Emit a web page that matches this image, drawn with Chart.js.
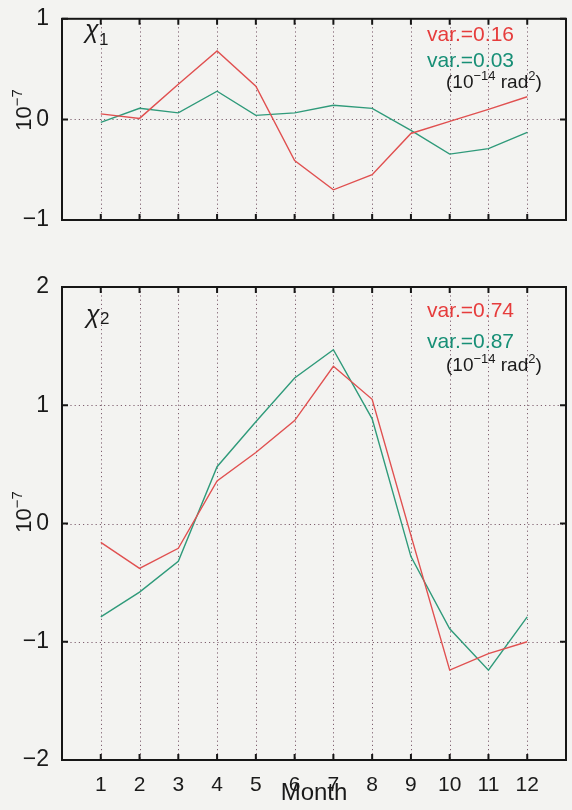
<!DOCTYPE html>
<html>
<head>
<meta charset="utf-8">
<script src="https://cdn.jsdelivr.net/npm/chart.js@4.4.1/dist/chart.umd.min.js"></script>
<style>
  body { margin: 0; background: #f3f3f1; }
  .panel { position: absolute; left: 0; width: 572px; }
  #top { top: 0; height: 250px; }
  #bottom { top: 250px; height: 560px; }
</style>
</head>
<body>
<div class="panel" id="top"><canvas id="chi1" width="572" height="250"></canvas></div>
<div class="panel" id="bottom"><canvas id="chi2" width="572" height="560"></canvas></div>
<script>
'use strict';

// data (units of 10^-7)
const months = [1, 2, 3, 4, 5, 6, 7, 8, 9, 10, 11, 12];
const chi1Red = [0.055, 0.01, 0.35, 0.68, 0.33, -0.41, -0.70, -0.55, -0.14, -0.02, 0.10, 0.225];
const chi1Green = [-0.03, 0.11, 0.065, 0.28, 0.04, 0.065, 0.14, 0.11, -0.11, -0.345, -0.29, -0.13];
const chi2Red = [-0.16, -0.38, -0.21, 0.36, 0.60, 0.87, 1.33, 1.05, -0.10, -1.24, -1.10, -1.00];
const chi2Green = [-0.79, -0.58, -0.32, 0.48, 0.86, 1.23, 1.47, 0.885, -0.28, -0.89, -1.24, -0.79];
const chi1YTicks = [-1, 0, 1];
const chi2YTicks = [-2, -1, 0, 1, 2];
const chi1Var = ['var.=0.16', 'var.=0.03'];
const chi2Var = ['var.=0.74', 'var.=0.87'];

const FONT = "'Liberation Sans', Arial, Helvetica, sans-serif";
const NARROW = "'Liberation Sans Narrow', 'Liberation Sans', Arial, sans-serif";
const RED = '#e05050';
const GREEN = '#2f9a7a';
const RED_TEXT = '#e63c3c';
const GREEN_TEXT = '#178f76';
const GRID = '#7f6070';

function toPoints(values) {
  return months.map(function(m, i) {
    return { x: m, y: values[i] };
  });
}

function formatTick(v) {
  return v < 0 ? '\u2212' + Math.abs(v) : String(v);
}

// draw text pieces one after another (for superscripts)
function drawPieces(ctx, x, y, pieces) {
  pieces.forEach(function(p) {
    ctx.font = p.size + 'px ' + FONT;
    ctx.fillText(p.text, x, y - (p.rise || 0));
    x += ctx.measureText(p.text).width;
  });
}

function piecesWidth(ctx, pieces) {
  let w = 0;
  pieces.forEach(function(p) {
    ctx.font = p.size + 'px ' + FONT;
    w += ctx.measureText(p.text).width;
  });
  return w;
}

const matlabAxes = {
  id: 'matlabAxes',
  beforeDatasetsDraw: function(chart) {
    const ctx = chart.ctx;
    const area = chart.chartArea;
    const xs = chart.scales.x;
    const ys = chart.scales.y;
    const yTicks = chart.options.plugins.matlabAxes.yTicks;

    ctx.save();
    ctx.strokeStyle = GRID;
    ctx.lineWidth = 1;
    ctx.setLineDash([1.2, 3]);
    months.forEach(function(m) {
      const px = Math.round(xs.getPixelForValue(m)) + 0.5;
      ctx.beginPath();
      ctx.moveTo(px, area.top);
      ctx.lineTo(px, area.bottom);
      ctx.stroke();
    });
    yTicks.forEach(function(v) {
      if (v === ys.min || v === ys.max) return;
      const py = Math.round(ys.getPixelForValue(v)) + 0.5;
      ctx.beginPath();
      ctx.moveTo(area.left, py);
      ctx.lineTo(area.right, py);
      ctx.stroke();
    });
    ctx.restore();
  },
  afterDatasetsDraw: function(chart) {
    const ctx = chart.ctx;
    const area = chart.chartArea;
    const xs = chart.scales.x;
    const ys = chart.scales.y;
    const opts = chart.options.plugins.matlabAxes;

    ctx.save();
    // frame
    ctx.strokeStyle = '#161616';
    ctx.lineWidth = 2;
    ctx.strokeRect(area.left, area.top, area.right - area.left, area.bottom - area.top);
    // inward ticks
    months.forEach(function(m) {
      const px = xs.getPixelForValue(m);
      ctx.beginPath();
      ctx.moveTo(px, area.top);
      ctx.lineTo(px, area.top + 6);
      ctx.moveTo(px, area.bottom);
      ctx.lineTo(px, area.bottom - 6);
      ctx.stroke();
    });
    opts.yTicks.forEach(function(v) {
      const py = ys.getPixelForValue(v);
      ctx.beginPath();
      ctx.moveTo(area.left, py);
      ctx.lineTo(area.left + 6, py);
      ctx.moveTo(area.right, py);
      ctx.lineTo(area.right - 6, py);
      ctx.stroke();
    });

    // panel name, chi with subscript
    ctx.fillStyle = '#1a1a1a';
    ctx.textAlign = 'left';
    ctx.textBaseline = 'alphabetic';
    ctx.font = 'italic 25px ' + FONT;
    ctx.fillText('\u03c7', opts.nameX, opts.nameY);
    ctx.font = '17px ' + FONT;
    ctx.fillText(opts.sub, opts.nameX + 14, opts.nameY + opts.subDrop);

    // variances
    ctx.font = '21px ' + FONT;
    ctx.fillStyle = RED_TEXT;
    ctx.fillText(opts.vars[0], opts.varX, opts.varY[0]);
    ctx.fillStyle = GREEN_TEXT;
    ctx.fillText(opts.vars[1], opts.varX, opts.varY[1]);
    ctx.fillStyle = '#1a1a1a';
    drawPieces(ctx, opts.varX + 19, opts.varY[2], [
      { text: '(10', size: 19 },
      { text: '\u221214', size: 13, rise: 8 },
      { text: ' rad', size: 19 },
      { text: '2', size: 13, rise: 8 },
      { text: ')', size: 19 }
    ]);

    // y axis unit, rotated
    const unit = [
      { text: '10', size: 22 },
      { text: '\u22127', size: 15, rise: 9 }
    ];
    ctx.translate(31, opts.unitY);
    ctx.rotate(-Math.PI / 2);
    drawPieces(ctx, -piecesWidth(ctx, unit) / 2, 0, unit);
    ctx.restore();
  }
};

function makePanel(canvasId, red, green, yMin, yMax, yTicks, extra) {
  return new Chart(document.getElementById(canvasId), {
    type: 'line',
    data: {
      datasets: [
        { data: toPoints(red), borderColor: RED, borderWidth: 1.4, pointRadius: 0, tension: 0, fill: false },
        { data: toPoints(green), borderColor: GREEN, borderWidth: 1.4, pointRadius: 0, tension: 0, fill: false }
      ]
    },
    options: {
      responsive: false,
      animation: false,
      devicePixelRatio: 1,
      layout: { padding: { top: extra.padTop, right: 6, left: 0, bottom: 0 } },
      plugins: {
        legend: { display: false },
        tooltip: { enabled: false },
        matlabAxes: {
          yTicks: yTicks,
          nameX: extra.nameX, nameY: extra.nameY, sub: extra.sub, subDrop: extra.subDrop,
          vars: extra.vars, varX: 427, varY: extra.varY, unitY: extra.unitY
        }
      },
      scales: {
        x: {
          type: 'linear',
          min: 0,
          max: 13,
          grid: { display: false },
          border: { display: false },
          ticks: {
            display: extra.showX,
            stepSize: 1,
            autoSkip: false,
            maxRotation: 0,
            padding: 5,
            color: '#1a1a1a',
            font: { family: NARROW, size: 21 },
            callback: function(v) { return (v >= 1 && v <= 12) ? String(v) : ''; }
          },
          title: {
            display: extra.showX,
            text: 'Month',
            color: '#1a1a1a',
            font: { family: FONT, size: 24, lineHeight: 1.2 },
            padding: { top: 0, bottom: 2 }
          },
          afterFit: function(scale) { scale.height = extra.xHeight; }
        },
        y: {
          min: yMin,
          max: yMax,
          grid: { display: false },
          border: { display: false },
          afterBuildTicks: function(scale) {
            scale.ticks = yTicks.map(function(v) { return { value: v }; });
          },
          ticks: {
            padding: 5,
            color: '#1a1a1a',
            font: { family: NARROW, size: 23 },
            callback: function(v) { return formatTick(v); }
          },
          afterFit: function(scale) { scale.width = 62; }
        }
      }
    },
    plugins: [matlabAxes]
  });
}

makePanel('chi1', chi1Red, chi1Green, -1, 1, chi1YTicks, {
  padTop: 16, xHeight: 30, showX: false,
  nameX: 85, nameY: 38, sub: '1', subDrop: 7,
  vars: chi1Var, varY: [41, 67, 88], unitY: 110
});

makePanel('chi2', chi2Red, chi2Green, -2, 2, chi2YTicks, {
  padTop: 37, xHeight: 50, showX: true,
  nameX: 86, nameY: 73, sub: '2', subDrop: 1,
  vars: chi2Var, varY: [67, 98, 121], unitY: 262
});
</script>
</body>
</html>
